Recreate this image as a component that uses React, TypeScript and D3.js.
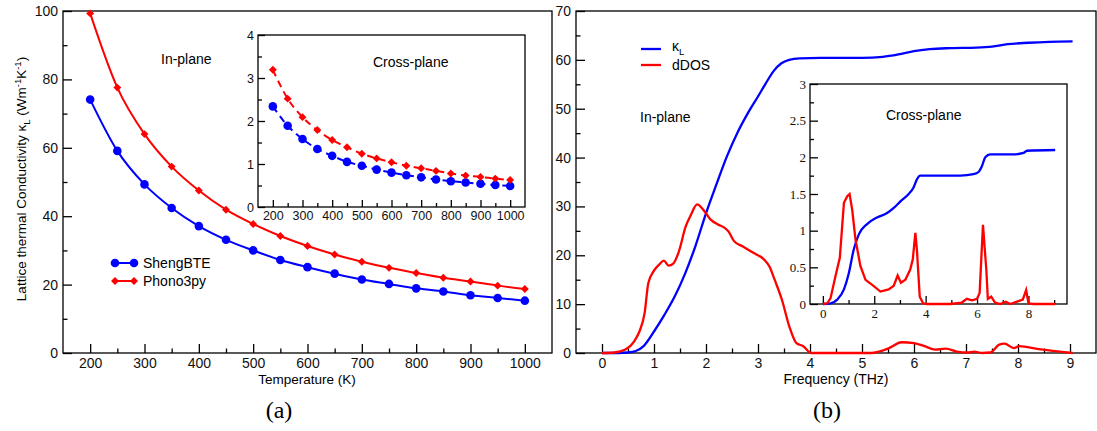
import React, { useEffect, useRef } from 'react';
import * as d3 from 'd3';

// (a) lattice thermal conductivity vs temperature
const temps = [200, 250, 300, 350, 400, 450, 500, 550, 600, 650, 700, 750, 800, 850, 900, 950, 1000];
const shengIn = [74.1, 59.1, 49.3, 42.4, 37.1, 33.1, 30.0, 27.2, 25.1, 23.2, 21.5, 20.2, 18.9, 18.0, 16.9, 16.1, 15.3];
const phonoIn = [99.3, 77.6, 64.0, 54.5, 47.5, 41.9, 37.7, 34.2, 31.3, 28.8, 26.7, 24.9, 23.4, 22.0, 20.9, 19.7, 18.7];
const shengCross = [2.34, 1.89, 1.58, 1.35, 1.19, 1.05, 0.96, 0.87, 0.8, 0.74, 0.69, 0.64, 0.6, 0.57, 0.54, 0.51, 0.49];
const phonoCross = [3.19, 2.52, 2.09, 1.79, 1.56, 1.39, 1.24, 1.13, 1.04, 0.96, 0.9, 0.84, 0.78, 0.73, 0.7, 0.66, 0.63];

// (b) cumulative kappa and derivative DOS vs frequency, in-plane
const kapFreqIn = [0, 0.3, 0.5, 0.65, 0.8, 1.0, 1.2, 1.4, 1.6, 1.8, 2.0, 2.2, 2.4, 2.6, 2.8, 3.0, 3.15, 3.3, 3.45, 3.6, 3.8, 4.2, 5.0, 5.4, 5.7, 6.0, 6.3, 6.7, 7.2, 7.5, 7.8, 8.2, 8.6, 9.05];
const kapIn = [0, 0, 0.1, 0.4, 1.4, 4.4, 7.8, 11.6, 16.3, 22.0, 28.6, 34.5, 40.2, 45.0, 49.0, 52.5, 55.2, 57.7, 59.3, 60.0, 60.3, 60.4, 60.4, 60.6, 61.1, 61.8, 62.2, 62.4, 62.5, 62.7, 63.2, 63.5, 63.7, 63.8];
const dosFreqIn = [0, 0.24, 0.45, 0.62, 0.72, 0.82, 0.89, 0.99, 1.1, 1.19, 1.28, 1.37, 1.47, 1.61, 1.71, 1.83, 1.95, 2.09, 2.23, 2.36, 2.43, 2.54, 2.71, 2.91, 3.12, 3.22, 3.32, 3.46, 3.6, 3.74, 3.87, 4.02, 5.17, 5.52, 5.76, 6.0, 6.2, 6.41, 6.61, 6.82, 7.03, 7.16, 7.3, 7.47, 7.64, 7.74, 7.92, 8.02, 8.4, 9.05];
const dosIn = [0, 0.1, 0.7, 2.4, 4.4, 8.2, 14.3, 16.7, 18.1, 18.9, 17.9, 18.3, 20.5, 25.9, 28.3, 30.4, 29.3, 27.3, 26.3, 25.6, 24.9, 22.9, 21.8, 20.5, 19.1, 17.7, 15.0, 10.9, 5.5, 2.0, 1.4, 0, 0, 1.0, 2.2, 2.0, 1.4, 0.7, 0.9, 0.3, 0.1, 0.3, 0, 0.1, 1.7, 1.9, 1.0, 1.4, 0.8, 0];

// (b) inset, cross-plane
const kapFreqCross = [0, 0.3, 0.56, 0.82, 1.01, 1.2, 1.4, 1.72, 2.11, 2.5, 2.76, 3.02, 3.34, 3.53, 3.66, 3.79, 4.18, 5.35, 5.86, 6.06, 6.19, 6.32, 6.51, 7.42, 7.81, 7.94, 9.04];
const kapCross = [0, 0.01, 0.06, 0.2, 0.42, 0.74, 0.95, 1.09, 1.18, 1.24, 1.31, 1.4, 1.5, 1.59, 1.7, 1.75, 1.75, 1.75, 1.77, 1.8, 1.88, 2.0, 2.04, 2.04, 2.06, 2.09, 2.1];
const dosFreqCross = [0, 0.17, 0.3, 0.49, 0.66, 0.82, 0.95, 1.04, 1.14, 1.27, 1.46, 1.66, 1.92, 2.24, 2.56, 2.76, 2.91, 3.04, 3.21, 3.4, 3.5, 3.6, 3.66, 3.77, 3.9, 4.05, 4.96, 5.41, 5.6, 5.8, 6.0, 6.1, 6.23, 6.36, 6.42, 6.55, 6.7, 6.9, 7.12, 7.29, 7.61, 7.78, 7.91, 8.0, 8.19, 9.04];
const dosCross = [0, 0.01, 0.08, 0.38, 0.63, 1.38, 1.47, 1.5, 1.29, 0.88, 0.52, 0.33, 0.26, 0.17, 0.2, 0.25, 0.39, 0.29, 0.33, 0.47, 0.61, 0.97, 0.74, 0.1, 0.01, 0, 0, 0.02, 0.07, 0.05, 0.07, 0.15, 1.08, 0.47, 0.07, 0.1, 0.02, 0, 0.03, 0, 0.04, 0.06, 0.19, 0.01, 0, 0];

const SANS = '"Liberation Sans", Arial, sans-serif';
const SERIF = '"Liberation Serif", "Times New Roman", serif';
const BLUE = '#0000ff';
const RED = '#ff0000';

const xT = d3.scaleLinear().domain([150, 1050]).range([63, 552]);
const yT = d3.scaleLinear().domain([0, 100]).range([353, 11]);
const xTi = d3.scaleLinear().domain([150, 1050]).range([258, 525]);
const yTi = d3.scaleLinear().domain([0, 4]).range([207, 35]);
const xF = d3.scaleLinear().domain([-0.5, 9.5]).range([576, 1096]);
const yF = d3.scaleLinear().domain([0, 70]).range([353, 11]);
const xFi = d3.scaleLinear().domain([-0.5, 9.5]).range([810, 1067]);
const yFi = d3.scaleLinear().domain([0, 3]).range([304, 84]);

const Axis = ({ scale, orient, at, major, minor, size, minorSize, font, fontSize, pad }) => {
    const ref = useRef(null);
    useEffect(() => {
        const g = d3.select(ref.current);
        g.selectAll('*').remove();
        const mk = orient === 'bottom' ? d3.axisBottom : d3.axisLeft;
        g.append('g').call(mk(scale).tickValues(minor).tickSize(-minorSize).tickFormat(() => ''));
        g.append('g').call(mk(scale).tickValues(major).tickSize(-size).tickPadding(pad).tickFormat(d => String(d)));
        g.selectAll('.domain').remove();
        g.selectAll('line').attr('stroke', '#000').attr('stroke-width', 1.3);
        g.selectAll('text')
            .attr('font-family', font)
            .attr('font-size', fontSize)
            .attr('fill', '#111');
    }, []);
    const tr = orient === 'bottom' ? `translate(0,${at})` : `translate(${at},0)`;
    return <g ref={ref} transform={tr} />;
};

const lineOf = (xs, ys, x, y, curve = d3.curveLinear) =>
    d3.line().x((d, i) => x(xs[i])).y(d => y(d)).curve(curve)(ys);

const diamond = d3.symbol().type(d3.symbolDiamond2).size(40)();

const Markers = ({ xs, ys, x, y, kind, color }) => (
    <g fill={color}>
        {ys.map((v, i) =>
            kind === 'circle' ? (
                <circle key={i} cx={x(xs[i])} cy={y(v)} r={4.3} />
            ) : (
                <path key={i} d={diamond} transform={`translate(${x(xs[i])},${y(v)})`} />
            )
        )}
    </g>
);

const Frame = ({ x, y, fill = 'none' }) => (
    <rect
        x={x.range()[0]}
        y={y.range()[1]}
        width={x.range()[1] - x.range()[0]}
        height={y.range()[0] - y.range()[1]}
        fill={fill}
        stroke="#000"
        strokeWidth={1.3}
    />
);

const App = () => {
    return (
        <svg width={1097} height={431} style={{ position: 'absolute', left: 0, top: 0, background: '#fff' }}>
            {/* ---------- panel (a) ---------- */}
            <Frame x={xT} y={yT} />
            <Axis scale={xT} orient="bottom" at={353} major={d3.range(200, 1001, 100)} minor={d3.range(250, 1000, 100)} size={9} minorSize={4.5} font={SANS} fontSize={14} pad={5} />
            <Axis scale={yT} orient="left" at={63} major={d3.range(0, 101, 20)} minor={d3.range(10, 100, 20)} size={9} minorSize={4.5} font={SANS} fontSize={14} pad={5} />
            <path d={lineOf(temps, shengIn, xT, yT, d3.curveMonotoneX)} fill="none" stroke={BLUE} strokeWidth={2} />
            <path d={lineOf(temps, phonoIn, xT, yT, d3.curveMonotoneX)} fill="none" stroke={RED} strokeWidth={2} />
            <Markers xs={temps} ys={shengIn} x={xT} y={yT} kind="circle" color={BLUE} />
            <Markers xs={temps} ys={phonoIn} x={xT} y={yT} kind="diamond" color={RED} />
            <text x={307} y={384} textAnchor="middle" fontFamily={SANS} fontSize={13.5}>Temperature (K)</text>
            <text transform="translate(26,179) rotate(-90)" textAnchor="middle" fontFamily={SANS} fontSize={13.5}>
                Lattice thermal Conductivity κ<tspan fontSize={9.5} dy={4}>L</tspan>
                <tspan dy={-4}> (Wm</tspan>
                <tspan fontSize={9.5} dy={-5}>-1</tspan>
                <tspan dy={5}>K</tspan>
                <tspan fontSize={9.5} dy={-5}>-1</tspan>
                <tspan dy={5}>)</tspan>
            </text>
            <text x={161} y={64} fontFamily={SANS} fontSize={14}>In-plane</text>

            {/* legend (a) */}
            <g>
                <line x1={115} x2={134} y1={263} y2={263} stroke={BLUE} strokeWidth={2} />
                <circle cx={115} cy={263} r={4.3} fill={BLUE} />
                <circle cx={134} cy={263} r={4.3} fill={BLUE} />
                <text x={143} y={268} fontFamily={SANS} fontSize={14}>ShengBTE</text>
                <line x1={115} x2={134} y1={281} y2={281} stroke={RED} strokeWidth={2} />
                <path d={diamond} transform="translate(115,281)" fill={RED} />
                <path d={diamond} transform="translate(134,281)" fill={RED} />
                <text x={143} y={286} fontFamily={SANS} fontSize={14}>Phono3py</text>
            </g>

            {/* inset (a) */}
            <Frame x={xTi} y={yTi} fill="#fff" />
            <Axis scale={xTi} orient="bottom" at={207} major={d3.range(200, 1001, 100)} minor={d3.range(250, 1000, 100)} size={7} minorSize={4} font={SANS} fontSize={12.5} pad={4} />
            <Axis scale={yTi} orient="left" at={258} major={d3.range(0, 5, 1)} minor={d3.range(0.5, 4, 1)} size={7} minorSize={4} font={SANS} fontSize={12.5} pad={4} />
            <path d={lineOf(temps, shengCross, xTi, yTi, d3.curveMonotoneX)} fill="none" stroke={BLUE} strokeWidth={2} strokeDasharray="7,5" />
            <path d={lineOf(temps, phonoCross, xTi, yTi, d3.curveMonotoneX)} fill="none" stroke={RED} strokeWidth={2} strokeDasharray="7,5" />
            <Markers xs={temps} ys={shengCross} x={xTi} y={yTi} kind="circle" color={BLUE} />
            <Markers xs={temps} ys={phonoCross} x={xTi} y={yTi} kind="diamond" color={RED} />
            <text x={373} y={67} fontFamily={SANS} fontSize={14}>Cross-plane</text>

            <text x={279} y={418} textAnchor="middle" fontFamily={SERIF} fontSize={24}>(a)</text>

            {/* ---------- panel (b) ---------- */}
            <Frame x={xF} y={yF} />
            <Axis scale={xF} orient="bottom" at={353} major={d3.range(0, 10, 1)} minor={d3.range(0.5, 9, 1)} size={9} minorSize={4.5} font={SANS} fontSize={14} pad={5} />
            <Axis scale={yF} orient="left" at={576} major={d3.range(0, 71, 10)} minor={d3.range(5, 70, 10)} size={9} minorSize={4.5} font={SANS} fontSize={14} pad={5} />
            <path d={lineOf(kapFreqIn, kapIn, xF, yF, d3.curveMonotoneX)} fill="none" stroke={BLUE} strokeWidth={2.3} />
            <path d={lineOf(dosFreqIn, dosIn, xF, yF, d3.curveMonotoneX)} fill="none" stroke={RED} strokeWidth={2.3} />
            <text x={836} y={384} textAnchor="middle" fontFamily={SANS} fontSize={14}>Frequency (THz)</text>
            <text x={640} y={122} fontFamily={SANS} fontSize={14}>In-plane</text>

            {/* legend (b) */}
            <g>
                <line x1={641} x2={661} y1={49} y2={49} stroke={BLUE} strokeWidth={2.3} />
                <text x={672} y={51} fontFamily={SANS} fontSize={14}>
                    κ<tspan fontSize={9.5} dy={4}>L</tspan>
                </text>
                <line x1={641} x2={661} y1={65} y2={65} stroke={RED} strokeWidth={2.3} />
                <text x={672} y={70} fontFamily={SANS} fontSize={14}>dDOS</text>
            </g>

            {/* inset (b) */}
            <Frame x={xFi} y={yFi} fill="#fff" />
            <Axis scale={xFi} orient="bottom" at={304} major={d3.range(0, 9, 2)} minor={d3.range(1, 10, 2)} size={8} minorSize={4} font={SERIF} fontSize={13} pad={5} />
            <Axis scale={yFi} orient="left" at={810} major={d3.range(0, 3.01, 0.5)} minor={d3.range(0.25, 3, 0.5)} size={8} minorSize={4} font={SERIF} fontSize={13} pad={4} />
            <path d={lineOf(kapFreqCross, kapCross, xFi, yFi, d3.curveMonotoneX)} fill="none" stroke={BLUE} strokeWidth={2.3} />
            <path d={lineOf(dosFreqCross, dosCross, xFi, yFi)} fill="none" stroke={RED} strokeWidth={2.3} />
            <text x={886} y={120} fontFamily={SANS} fontSize={14}>Cross-plane</text>

            <text x={827} y={418} textAnchor="middle" fontFamily={SERIF} fontSize={24}>(b)</text>
        </svg>
    );
};

export default App;
